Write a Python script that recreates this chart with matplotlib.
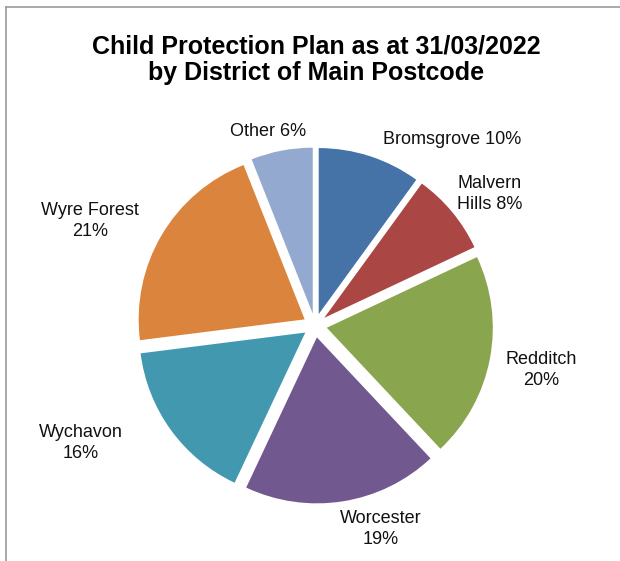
import matplotlib
matplotlib.use("Agg")
import matplotlib.pyplot as plt
from matplotlib.lines import Line2D

plt.rcParams['font.family'] = ['Liberation Sans', 'DejaVu Sans']

# data
districts = ['Bromsgrove', 'Malvern\nHills', 'Redditch', 'Worcester', 'Wychavon', 'Wyre Forest', 'Other']
shares = [10, 8, 20, 19, 16, 21, 6]
colours = ['#4572A7', '#AA4643', '#89A54E', '#71588F', '#4198AF', '#DB843D', '#93A9CF']

fig = plt.figure(figsize=(6.2, 5.61), dpi=100)
ax = fig.add_axes([0, 0, 1, 1])

# pie drawn in pixel-like coords (y up); explode is absolute offset
R = 166
wedges, _ = ax.pie(shares, colors=colours, startangle=90, counterclock=False,
                   explode=[12] * len(shares), radius=R, center=(315, 235.5),
                   wedgeprops=dict(linewidth=0), frame=True)
ax.set_xlim(0, 620)
ax.set_ylim(0, 561)
ax.set_aspect('equal')
ax.axis('off')

# label positions (pixel coords, y from top)
label_pos = {
    'Bromsgrove': (452, 139, ' '),
    'Malvern\nHills': (490, 194, ' '),
    'Redditch': (541, 370, '\n'),
    'Worcester': (381, 529, '\n'),
    'Wychavon': (81, 443, '\n'),
    'Wyre Forest': (90, 221, '\n'),
    'Other': (268, 131, ' '),
}
for name, val in zip(districts, shares):
    x, y, sep = label_pos[name]
    ax.text(x, 561 - y, name + sep + str(val) + '%', ha='center', va='center',
            fontsize=13, color='#111111', linespacing=1.3)

fig.text(316 / 620, 1 - 60 / 561, 'Child Protection Plan as at 31/03/2022\nby District of Main Postcode',
         ha='center', va='center', fontsize=18, fontweight='bold', linespacing=1.15)

# chart frame (top and left edges visible)
fig.add_artist(Line2D([6 / 620, 1], [1 - 7 / 561, 1 - 7 / 561], color='#999999', lw=1.2))
fig.add_artist(Line2D([6 / 620, 6 / 620], [0, 1 - 7 / 561], color='#999999', lw=1.2))

fig.savefig('out.png', dpi=100, facecolor='white')
